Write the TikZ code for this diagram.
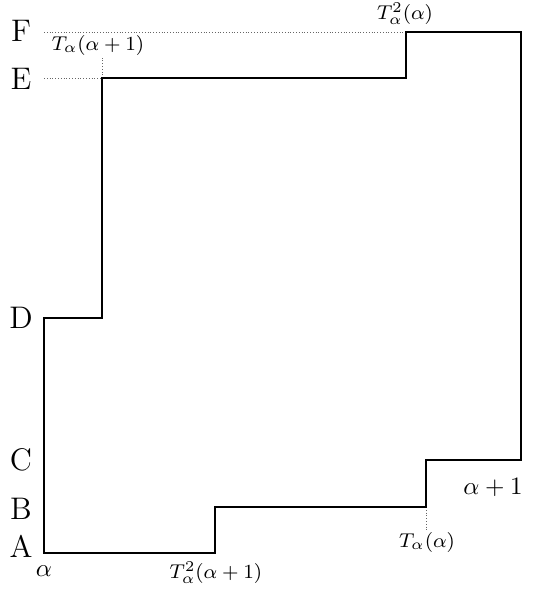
\documentclass[tikz,border=0pt]{standalone}
\begin{document}
\begin{tikzpicture}[x=1pt,y=-1pt,
  stair/.style={line width=2.1pt, line join=miter},
  guide/.style={dotted, line width=0.8pt, black!60},
  biglet/.style={font=\large, inner sep=0pt, scale=2.6},
  midlab/.style={font=\normalsize, inner sep=0pt, scale=2.5},
  smalllab/.style={font=\footnotesize, inner sep=0pt, scale=2.5}]
\useasboundingbox (0,0) rectangle (552,592);
% corners
\coordinate (p1) at (44,553);
\coordinate (p2) at (215,553);
\coordinate (p3) at (215,507);
\coordinate (p4) at (426,507);
\coordinate (p5) at (426,460);
\coordinate (p6) at (521,460);
\coordinate (p7) at (521,32);
\coordinate (p8) at (406,32);
\coordinate (p9) at (406,78);
\coordinate (p10) at (102,78);
\coordinate (p11) at (102,318);
\coordinate (p12) at (44,318);
% guide ends
\coordinate (gF) at (44,32);
\coordinate (gE) at (44,78);
\coordinate (gT1) at (102,57);
\coordinate (gT2) at (426,530);
% dotted guides
\draw[guide] (gF) -- (p8);
\draw[guide] (gE) -- (p10);
\draw[guide] (p10) -- (gT1);
\draw[guide] (p4) -- (gT2);
% staircase
\draw[stair] (p1) -- (p2) -- (p3) -- (p4) -- (p5) -- (p6) -- (p7) -- (p8) -- (p9) -- (p10) -- (p11) -- (p12) -- cycle;
% letters
\node[biglet] (A) at (21,546) {A};
\node[biglet] (B) at (21,509) {B};
\node[biglet] (C) at (21,460) {C};
\node[biglet] (D) at (21,318) {D};
\node[biglet] (E) at (21,79) {E};
\node[biglet] (F) at (21,31) {F};
% labels
\node[midlab] (alpha) at (44,571) {$\alpha$};
\node[midlab] (alpha1) at (493,487) {$\alpha+1$};
\node[smalllab] (Ta1) at (98,45) {$T_\alpha(\alpha+1)$};
\node[smalllab] (T2a) at (405,14) {$T^2_\alpha(\alpha)$};
\node[smalllab] (Ta) at (427,542) {$T_\alpha(\alpha)$};
\node[smalllab] (T2a1) at (216,573) {$T^2_\alpha(\alpha+1)$};
\end{tikzpicture}
\end{document}
